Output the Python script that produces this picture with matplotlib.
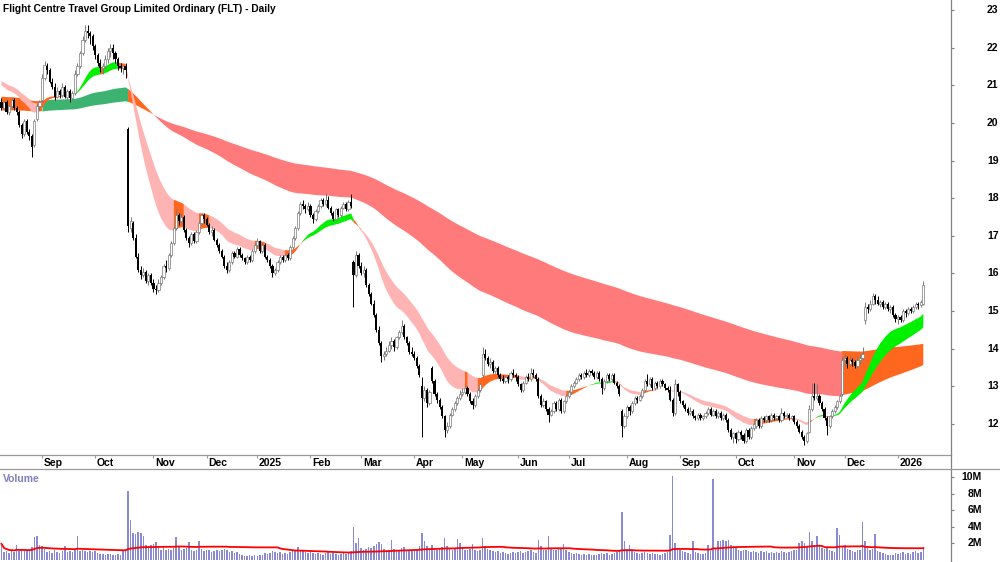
import numpy as np
import pandas as pd
import matplotlib
matplotlib.use('Agg')
import matplotlib.pyplot as plt
from matplotlib.lines import Line2D
from matplotlib.transforms import blended_transform_factory

plt.rcParams['font.family'] = ['Liberation Sans', 'DejaVu Sans']

# daily bars, one list per month: open, high, low, close, volume (millions)
aug24 = [(20.55, 20.65, 20.35, 20.4, 1.9), (20.4, 20.6, 20.35, 20.55, 0.9), (20.55, 20.6, 20.25, 20.3, 1.0), (20.3, 20.5, 20.2, 20.45, 0.8),
         (20.45, 20.7, 20.4, 20.6, 1.1), (20.6, 20.65, 20.35, 20.4, 0.9), (20.4, 20.45, 20.2, 20.3, 1.7), (20.3, 20.35, 19.9, 19.95, 1.0),
         (19.95, 20.0, 19.6, 19.7, 1.2), (19.7, 20.1, 19.65, 20.05, 1.0), (20.05, 20.1, 19.7, 19.75, 1.1), (19.75, 19.85, 19.55, 19.65, 1.1),
         (19.65, 19.7, 19.1, 19.35, 1.5), (19.4, 20.1, 19.35, 20.05, 2.7), (20.1, 20.5, 20.05, 20.45, 2.9), (20.45, 20.6, 20.35, 20.55, 1.8)]
sep24 = [(20.6, 21.3, 20.55, 21.2, 1.6), (21.2, 21.65, 21.15, 21.55, 1.3), (21.5, 21.6, 21.3, 21.4, 0.9), (21.4, 21.45, 21.05, 21.1, 1.0),
         (21.1, 21.2, 20.9, 20.95, 0.8), (20.95, 21.05, 20.6, 20.7, 1.2), (20.7, 20.95, 20.65, 20.85, 0.9), (20.85, 20.9, 20.65, 20.75, 0.8),
         (20.75, 21.05, 20.7, 20.95, 1.0), (20.95, 21.0, 20.65, 20.7, 1.6), (20.7, 20.9, 20.6, 20.85, 0.9), (20.85, 20.9, 20.55, 20.65, 1.0),
         (20.65, 20.85, 20.6, 20.8, 0.9), (20.8, 21.4, 20.75, 21.3, 1.1), (21.3, 21.6, 21.25, 21.5, 2.9), (21.5, 21.9, 21.45, 21.85, 1.0),
         (21.85, 22.3, 21.8, 22.2, 1.1), (22.2, 22.6, 22.15, 22.45, 1.0), (22.45, 22.6, 22.25, 22.4, 0.9), (22.4, 22.45, 22.1, 22.3, 1.0),
         (22.3, 22.35, 21.95, 22.05, 0.9)]
oct24 = [(22.05, 22.1, 21.7, 21.8, 1.0), (21.8, 21.85, 21.5, 21.6, 0.8), (21.6, 21.7, 21.35, 21.45, 0.7), (21.45, 21.6, 21.3, 21.5, 0.7),
         (21.5, 21.8, 21.45, 21.7, 0.6), (21.7, 22.0, 21.6, 21.9, 0.7), (21.9, 22.1, 21.75, 22.0, 0.7), (22.0, 22.1, 21.7, 21.85, 0.6),
         (21.85, 21.9, 21.6, 21.7, 0.6), (21.7, 21.75, 21.4, 21.5, 0.7), (21.5, 21.6, 21.35, 21.45, 0.6), (21.45, 21.55, 21.3, 21.5, 1.0),
         (21.5, 21.6, 21.2, 21.4, 1.2), (19.85, 19.9, 17.1, 17.25, 8.3), (17.2, 17.5, 17.1, 17.4, 4.8), (17.35, 17.4, 16.9, 16.95, 3.2),
         (16.95, 17.05, 16.4, 16.45, 3.1), (16.45, 16.55, 16.05, 16.1, 3.3), (16.1, 16.2, 15.85, 15.95, 3.2), (15.95, 16.15, 15.9, 16.05, 2.9),
         (16.05, 16.1, 15.75, 15.8, 1.7), (15.8, 16.0, 15.7, 15.95, 1.6), (15.95, 16.0, 15.7, 15.75, 1.7)]
nov24 = [(15.75, 15.85, 15.5, 15.6, 1.9), (15.6, 15.7, 15.45, 15.55, 2.1), (15.55, 15.85, 15.5, 15.75, 1.4), (15.75, 15.95, 15.7, 15.9, 1.2),
         (15.9, 16.25, 15.85, 16.2, 1.5), (16.2, 16.35, 16.05, 16.15, 1.1), (16.15, 16.55, 16.1, 16.5, 1.3), (16.5, 16.85, 16.45, 16.8, 1.2),
         (16.8, 17.25, 16.75, 17.2, 1.4), (17.2, 17.7, 17.15, 17.55, 2.7), (17.55, 17.6, 17.3, 17.4, 1.5), (17.4, 17.6, 17.35, 17.5, 1.2),
         (17.5, 17.55, 17.1, 17.15, 1.3), (17.15, 17.2, 16.9, 16.95, 1.4), (16.95, 17.0, 16.7, 16.8, 2.1), (16.8, 17.1, 16.75, 17.05, 1.1),
         (17.05, 17.1, 16.8, 16.85, 1.0), (16.85, 17.15, 16.8, 17.1, 1.2), (17.1, 17.4, 17.05, 17.35, 2.2), (17.35, 17.6, 17.3, 17.55, 1.3),
         (17.55, 17.6, 17.35, 17.45, 1.0)]
dec24 = [(17.45, 17.5, 17.25, 17.3, 1.2), (17.3, 17.35, 17.05, 17.1, 1.1), (17.1, 17.25, 17.0, 17.15, 0.9), (17.15, 17.2, 16.85, 16.9, 1.0),
         (16.9, 16.95, 16.7, 16.75, 1.1), (16.75, 16.8, 16.55, 16.6, 1.0), (16.6, 16.65, 16.4, 16.45, 1.2), (16.45, 16.5, 16.15, 16.2, 1.3),
         (16.2, 16.3, 16.0, 16.1, 1.1), (16.1, 16.35, 16.05, 16.3, 0.9), (16.3, 16.6, 16.25, 16.55, 1.0), (16.55, 16.6, 16.4, 16.45, 0.8),
         (16.45, 16.7, 16.4, 16.65, 0.9), (16.65, 16.7, 16.45, 16.5, 0.7), (16.5, 16.55, 16.35, 16.4, 0.5), (16.4, 16.45, 16.25, 16.3, 0.4),
         (16.3, 16.5, 16.25, 16.45, 0.4), (16.45, 16.5, 16.3, 16.35, 0.5), (16.35, 16.65, 16.3, 16.6, 0.4), (16.6, 16.8, 16.55, 16.75, 0.5)]
jan25 = [(16.75, 16.95, 16.7, 16.85, 0.4), (16.85, 16.9, 16.55, 16.6, 0.5), (16.6, 16.8, 16.55, 16.75, 0.6), (16.75, 16.8, 16.4, 16.45, 0.8),
         (16.45, 16.5, 16.3, 16.35, 0.7), (16.35, 16.4, 16.15, 16.2, 0.8), (16.2, 16.25, 15.9, 16.0, 1.0), (16.0, 16.15, 15.95, 16.1, 0.9),
         (16.1, 16.35, 16.05, 16.3, 0.8), (16.3, 16.5, 16.25, 16.45, 0.9), (16.45, 16.5, 16.3, 16.35, 0.7), (16.35, 16.55, 16.3, 16.5, 0.8),
         (16.5, 16.55, 16.35, 16.4, 0.7), (16.4, 16.75, 16.35, 16.7, 0.9), (16.7, 17.0, 16.65, 16.95, 1.0), (16.95, 17.25, 16.9, 17.2, 1.1),
         (17.2, 17.65, 17.15, 17.6, 1.5), (17.6, 17.9, 17.55, 17.85, 1.2), (17.85, 17.95, 17.7, 17.8, 1.0), (17.8, 17.85, 17.6, 17.7, 0.9),
         (17.7, 17.9, 17.65, 17.8, 0.8)]
feb25 = [(17.8, 17.85, 17.5, 17.55, 0.9), (17.55, 17.6, 17.35, 17.45, 0.8), (17.45, 17.7, 17.4, 17.65, 0.7), (17.65, 17.85, 17.6, 17.8, 0.8),
         (17.8, 18.0, 17.75, 17.95, 0.7), (17.95, 18.0, 17.8, 17.85, 0.6), (17.85, 18.15, 17.8, 17.95, 0.8), (17.95, 18.05, 17.7, 17.75, 0.9),
         (17.75, 17.8, 17.55, 17.6, 0.7), (17.6, 17.65, 17.4, 17.45, 0.8), (17.45, 17.75, 17.4, 17.7, 0.7), (17.7, 17.75, 17.5, 17.55, 0.6),
         (17.55, 17.8, 17.5, 17.75, 0.7), (17.75, 17.9, 17.7, 17.85, 0.8), (17.85, 17.9, 17.65, 17.7, 0.7), (17.7, 17.95, 17.65, 17.9, 0.8),
         (17.9, 18.1, 17.75, 17.8, 1.0), (16.3, 16.35, 15.1, 15.95, 4.0), (15.95, 16.6, 15.9, 16.5, 2.0), (16.5, 16.55, 16.15, 16.2, 2.6)]
mar25 = [(16.2, 16.3, 15.95, 16.0, 1.4), (16.0, 16.2, 15.9, 16.1, 1.2), (16.1, 16.15, 15.65, 15.7, 1.3), (15.7, 15.75, 15.4, 15.45, 1.5),
         (15.45, 15.5, 15.15, 15.2, 1.4), (15.2, 15.3, 14.85, 14.9, 1.6), (14.9, 14.95, 14.45, 14.5, 1.9), (14.5, 14.6, 14.1, 14.15, 2.1),
         (14.15, 14.2, 13.65, 13.8, 1.9), (13.8, 13.95, 13.7, 13.85, 1.3), (13.85, 14.05, 13.8, 13.95, 1.1), (13.95, 14.2, 13.9, 14.1, 1.2),
         (14.1, 14.3, 14.0, 14.2, 2.4), (14.2, 14.25, 13.95, 14.05, 1.3), (14.05, 14.35, 14.0, 14.3, 1.1), (14.3, 14.5, 14.25, 14.45, 1.2),
         (14.45, 14.75, 14.4, 14.6, 1.4), (14.6, 14.65, 14.25, 14.3, 1.5), (14.3, 14.35, 14.1, 14.15, 1.2), (14.15, 14.2, 13.85, 13.9, 1.1),
         (13.9, 14.05, 13.8, 13.85, 1.0)]
apr25 = [(13.85, 13.95, 13.7, 13.75, 1.1), (13.75, 13.8, 13.5, 13.55, 1.3), (13.55, 13.6, 13.25, 13.3, 1.6), (13.0, 13.25, 11.65, 12.7, 3.2),
         (12.7, 13.0, 12.6, 12.9, 2.2), (12.9, 12.95, 12.45, 12.55, 1.6), (12.55, 12.9, 12.5, 12.85, 1.4), (13.5, 13.55, 13.1, 13.15, 1.8),
         (13.15, 13.2, 12.75, 12.8, 1.3), (12.8, 12.85, 12.55, 12.65, 1.2), (12.65, 12.7, 12.4, 12.45, 1.3), (12.45, 12.5, 12.15, 12.2, 1.5),
         (12.2, 12.25, 11.65, 11.85, 2.6), (11.85, 12.05, 11.75, 11.95, 1.6), (11.95, 12.3, 11.9, 12.25, 1.4), (12.25, 12.45, 12.2, 12.4, 1.2),
         (12.4, 12.6, 12.35, 12.55, 1.3), (12.55, 12.75, 12.5, 12.7, 2.5), (12.7, 12.9, 12.65, 12.8, 2.0)]
may25 = [(12.8, 12.95, 12.75, 12.85, 1.4), (12.85, 13.0, 12.8, 12.95, 1.2), (12.95, 13.0, 12.75, 12.8, 1.1), (12.8, 12.85, 12.55, 12.6, 1.3),
         (12.6, 12.7, 12.4, 12.5, 1.9), (12.5, 12.8, 12.45, 12.75, 1.2), (12.75, 12.95, 12.7, 12.9, 1.0), (12.9, 13.1, 12.85, 13.05, 1.1),
         (13.3, 14.05, 13.25, 13.85, 2.6), (13.85, 14.0, 13.7, 13.75, 1.6), (13.75, 13.8, 13.55, 13.6, 1.3), (13.6, 13.75, 13.5, 13.65, 1.1),
         (13.65, 13.7, 13.35, 13.4, 1.0), (13.4, 13.55, 13.35, 13.5, 0.9), (13.5, 13.55, 13.25, 13.3, 1.0), (13.3, 13.35, 13.15, 13.2, 0.8),
         (13.2, 13.3, 13.1, 13.15, 0.9), (13.15, 13.3, 13.1, 13.25, 0.8), (13.25, 13.3, 13.1, 13.2, 0.7), (13.2, 13.4, 13.15, 13.35, 0.8),
         (13.35, 13.45, 13.25, 13.3, 0.9), (13.3, 13.35, 13.15, 13.25, 0.8)]
jun25 = [(13.25, 13.3, 13.0, 13.05, 0.9), (13.05, 13.1, 12.85, 12.9, 1.0), (12.9, 13.15, 12.85, 13.1, 0.8), (13.1, 13.3, 13.05, 13.25, 0.9),
         (13.25, 13.35, 13.15, 13.2, 1.0), (13.2, 13.5, 13.15, 13.35, 1.1), (13.35, 13.45, 13.25, 13.3, 0.9), (13.3, 13.35, 13.15, 13.2, 0.8),
         (13.2, 13.25, 12.7, 12.75, 2.4), (12.75, 12.8, 12.45, 12.5, 1.6), (12.5, 12.7, 12.45, 12.6, 1.2), (12.6, 12.65, 12.35, 12.4, 1.1),
         (12.4, 12.45, 12.05, 12.25, 2.9), (12.25, 12.4, 12.2, 12.35, 1.3), (12.35, 12.6, 12.3, 12.55, 1.2), (12.55, 12.6, 12.35, 12.4, 1.1),
         (12.4, 12.7, 12.35, 12.65, 1.4), (12.65, 12.7, 12.3, 12.35, 1.3), (12.35, 12.65, 12.3, 12.6, 1.9), (12.6, 12.8, 12.55, 12.75, 1.2)]
jul25 = [(12.75, 12.9, 12.7, 12.85, 0.9), (12.85, 13.05, 12.8, 13.0, 0.8), (13.0, 13.15, 12.95, 13.1, 0.7), (13.1, 13.25, 13.05, 13.2, 0.8),
         (13.2, 13.35, 13.15, 13.3, 0.7), (13.3, 13.35, 13.2, 13.25, 0.6), (13.25, 13.4, 13.2, 13.35, 0.7), (13.35, 13.45, 13.25, 13.3, 0.6),
         (13.3, 13.45, 13.25, 13.4, 0.7), (13.4, 13.45, 13.3, 13.35, 0.6), (13.35, 13.4, 13.2, 13.25, 0.5), (13.25, 13.4, 13.2, 13.35, 0.6),
         (13.35, 13.4, 13.15, 13.2, 0.7), (13.2, 13.25, 12.8, 12.95, 0.8), (12.95, 13.2, 12.9, 13.15, 0.7), (13.15, 13.35, 13.1, 13.3, 0.8),
         (13.3, 13.35, 13.15, 13.2, 0.6), (13.2, 13.35, 13.15, 13.3, 0.7), (13.3, 13.35, 13.05, 13.1, 0.8), (13.1, 13.15, 12.95, 13.0, 0.9),
         (13.0, 13.05, 12.75, 12.8, 1.1), (12.35, 12.4, 11.65, 11.95, 5.7), (11.95, 12.3, 11.9, 12.2, 2.2)]
aug25 = [(12.2, 12.5, 12.15, 12.45, 1.3), (12.45, 12.5, 12.25, 12.35, 1.8), (12.35, 12.6, 12.3, 12.55, 1.0), (12.55, 12.75, 12.5, 12.7, 0.9),
         (12.7, 12.75, 12.55, 12.65, 0.8), (12.65, 12.8, 12.6, 12.75, 0.7), (12.75, 12.95, 12.7, 12.9, 0.8), (12.9, 13.2, 12.85, 13.15, 0.9),
         (13.15, 13.33, 13.0, 13.05, 0.8), (13.05, 13.25, 13.0, 13.2, 0.7), (13.2, 13.25, 12.9, 12.95, 0.8), (12.95, 13.15, 12.9, 13.1, 0.7),
         (13.1, 13.15, 12.95, 13.0, 0.7), (13.0, 13.2, 12.95, 13.15, 0.6), (13.15, 13.2, 13.0, 13.05, 0.7), (13.05, 13.1, 12.9, 12.95, 0.8),
         (12.95, 13.0, 12.85, 12.9, 0.9), (12.9, 13.0, 12.6, 12.65, 3.0), (12.65, 12.7, 12.2, 12.3, 10.1), (12.3, 13.2, 12.25, 13.05, 2.0),
         (13.05, 13.1, 12.75, 12.85, 1.4)]
sep25 = [(12.85, 12.9, 12.55, 12.6, 1.2), (12.6, 12.65, 12.45, 12.5, 1.0), (12.5, 12.55, 12.35, 12.4, 0.9), (12.4, 12.45, 12.25, 12.3, 0.8),
         (12.3, 12.45, 12.25, 12.35, 0.7), (12.35, 12.4, 12.15, 12.2, 2.2), (12.2, 12.25, 12.1, 12.15, 0.9), (12.15, 12.3, 12.1, 12.25, 0.8),
         (12.25, 12.3, 12.1, 12.15, 0.7), (12.15, 12.25, 12.1, 12.2, 0.7), (12.2, 12.35, 12.15, 12.3, 0.8), (12.3, 12.45, 12.25, 12.4, 1.8),
         (12.4, 12.45, 12.2, 12.25, 1.0), (12.25, 12.4, 12.2, 12.35, 9.75), (12.35, 12.4, 12.15, 12.2, 1.4), (12.2, 12.35, 12.15, 12.3, 2.2),
         (12.3, 12.35, 12.1, 12.15, 2.3), (12.15, 12.3, 12.1, 12.25, 2.4), (12.25, 12.3, 12.05, 12.1, 2.3), (12.1, 12.15, 11.8, 11.85, 2.4),
         (11.85, 11.9, 11.6, 11.65, 1.8), (11.65, 11.8, 11.5, 11.75, 1.6)]
oct25 = [(11.75, 11.8, 11.5, 11.6, 1.5), (11.6, 11.85, 11.55, 11.8, 1.2), (11.8, 11.85, 11.6, 11.7, 1.0), (11.7, 11.75, 11.5, 11.55, 1.2),
         (11.55, 11.9, 11.5, 11.85, 1.1), (11.85, 11.9, 11.6, 11.65, 1.0), (11.65, 11.95, 11.6, 11.9, 0.9), (11.9, 12.05, 11.85, 12.0, 1.0),
         (11.95, 12.15, 11.9, 12.1, 0.9), (12.1, 12.15, 11.9, 11.95, 0.8), (11.95, 12.2, 11.9, 12.15, 1.0), (12.15, 12.2, 12.05, 12.1, 0.9),
         (12.1, 12.25, 12.05, 12.2, 1.0), (12.2, 12.25, 12.05, 12.1, 0.8), (12.1, 12.3, 12.05, 12.25, 0.9), (12.25, 12.3, 12.1, 12.15, 0.8),
         (12.15, 12.25, 12.1, 12.2, 0.9), (12.2, 12.25, 12.05, 12.1, 0.8), (12.1, 12.42, 12.05, 12.3, 1.0), (12.3, 12.35, 12.15, 12.2, 0.9),
         (12.2, 12.3, 12.15, 12.25, 0.8), (12.25, 12.3, 12.1, 12.15, 0.9), (12.15, 12.25, 12.1, 12.2, 1.0)]
nov25 = [(12.2, 12.25, 12.0, 12.05, 1.1), (12.05, 12.1, 11.9, 11.95, 1.2), (11.95, 12.0, 11.75, 11.8, 2.0), (11.8, 11.85, 11.6, 11.65, 2.2),
         (11.65, 11.7, 11.45, 11.55, 2.0), (11.55, 11.8, 11.5, 11.75, 1.6), (11.8, 12.5, 11.75, 12.4, 3.3), (12.4, 13.1, 12.35, 12.75, 2.2),
         (12.75, 13.1, 12.65, 12.7, 1.6), (12.7, 13.05, 12.65, 12.75, 2.8), (12.75, 12.8, 12.5, 12.55, 1.8), (12.55, 12.6, 12.35, 12.4, 1.4),
         (12.4, 12.45, 12.1, 12.15, 1.3), (12.15, 12.2, 11.7, 11.95, 1.5), (11.95, 12.25, 11.9, 12.2, 1.2), (12.2, 12.4, 12.15, 12.35, 1.0),
         (12.35, 12.5, 12.3, 12.45, 0.9), (12.45, 12.65, 12.4, 12.6, 3.8), (12.6, 12.8, 12.55, 12.75, 3.0), (12.8, 13.8, 12.75, 13.7, 1.6)]
dec25 = [(13.7, 13.85, 13.55, 13.75, 1.8), (13.75, 13.8, 13.5, 13.6, 1.3), (13.6, 13.8, 13.55, 13.7, 1.1), (13.7, 13.75, 13.55, 13.65, 1.0),
         (13.65, 13.7, 13.5, 13.55, 0.9), (13.55, 13.8, 13.5, 13.7, 1.1), (13.7, 13.85, 13.6, 13.75, 1.2), (13.75, 14.05, 13.7, 13.85, 4.5),
         (14.75, 15.25, 14.65, 15.1, 2.3), (15.1, 15.2, 14.95, 15.05, 1.5), (15.05, 15.3, 15.0, 15.2, 1.2), (15.2, 15.47, 15.15, 15.4, 1.3),
         (15.4, 15.45, 15.2, 15.3, 3.1), (15.3, 15.4, 15.15, 15.2, 1.0), (15.2, 15.3, 15.1, 15.25, 0.9), (15.25, 15.3, 15.05, 15.1, 0.8),
         (15.1, 15.25, 15.05, 15.2, 0.7), (15.2, 15.25, 15.0, 15.05, 0.6), (15.05, 15.15, 14.95, 15.1, 0.5), (15.1, 15.15, 14.85, 14.9, 0.6),
         (14.9, 14.95, 14.7, 14.8, 0.8)]
jan26 = [(14.8, 14.9, 14.67, 14.85, 0.7), (14.85, 14.9, 14.7, 14.75, 0.8), (14.75, 15.05, 14.7, 15.0, 0.9), (15.0, 15.05, 14.85, 14.95, 0.7),
         (14.95, 15.1, 14.9, 15.05, 0.8), (15.05, 15.1, 14.95, 15.0, 0.7), (15.0, 15.15, 14.95, 15.1, 0.9), (15.1, 15.25, 15.05, 15.2, 1.0),
         (15.2, 15.25, 15.05, 15.15, 0.8), (15.15, 15.3, 15.1, 15.25, 0.9), (15.2, 15.8, 15.15, 15.7, 1.5)]

months = [aug24, sep24, oct24, nov24, dec24, jan25, feb25, mar25, apr25, may25,
          jun25, jul25, aug25, sep25, oct25, nov25, dec25, jan26]
month_labels = ['', 'Sep', 'Oct', 'Nov', 'Dec', '2025', 'Feb', 'Mar', 'Apr', 'May',
                'Jun', 'Jul', 'Aug', 'Sep', 'Oct', 'Nov', 'Dec', '2026']
price_ticks = list(range(12, 24))
vol_ticks = [2, 4, 6, 8, 10]

# ribbon values at the first bar (fast, slow) and EMA spans
short_start = [21.05, 21.15]
long_start = [20.70, 20.33]
short_spans = [21, 34]
long_spans = [130, 250]
vol_ma_len = 60


def ema(values, span, start):
    a = 2.0 / (span + 1)
    out = []
    e = start
    for val in values:
        e = e + a * (val - e)
        out.append(e)
    return np.array(out)


def band_state(fast, slow, start):
    rising = np.diff(fast, prepend=start) > 0
    state = np.full(len(fast), 'mixed', dtype=object)
    state[(fast > slow) & rising] = 'bull'
    state[(fast < slow) & ~rising] = 'bear'
    return state


def draw_band(ax, x, fast, slow, state, colors):
    lo = np.minimum(fast, slow)
    hi = np.maximum(fast, slow)
    for key, col in colors.items():
        m = state == key
        ext = m.copy()
        ext[1:] |= m[:-1]
        ax.fill_between(x, lo, hi, where=ext, color=col, linewidth=0, zorder=1)


rows = [r for m in months for r in m]
df = pd.DataFrame(rows, columns=['open', 'high', 'low', 'close', 'vol'])
x = np.arange(len(df))
o, h, l, c, v = (df[k].values for k in ['open', 'high', 'low', 'close', 'vol'])

month_start = np.cumsum([0] + [len(m) for m in months[:-1]])

fig = plt.figure(figsize=(10, 5.62), dpi=100)
ax = fig.add_axes([0, 1 - 455 / 562, 0.951, 455 / 562])
axv = fig.add_axes([0, 0, 0.951, (562 - 469) / 562])

# ribbons
sf = ema(c, short_spans[0], short_start[0])
ss = ema(c, short_spans[1], short_start[1])
lf = ema(c, long_spans[0], long_start[0])
ls = ema(c, long_spans[1], long_start[1])
draw_band(ax, x, lf, ls, band_state(lf, ls, long_start[0]),
          {'bull': '#3cb371', 'bear': '#ff7b7b', 'mixed': '#ff661e'})
draw_band(ax, x, sf, ss, band_state(sf, ss, short_start[0]),
          {'bull': '#00f000', 'bear': '#ffb4b4', 'mixed': '#ff661e'})

# candles
up = c >= o
body_lo = np.minimum(o, c)
body_h = np.maximum(np.abs(c - o), 0.02)
ax.vlines(x[up], l[up], h[up], color='#7a7a7a', lw=0.7, zorder=3)
ax.vlines(x[~up], l[~up], h[~up], color='black', lw=0.7, zorder=3)
ax.bar(x[up], body_h[up], bottom=body_lo[up], width=0.85, facecolor='white',
       edgecolor='#7a7a7a', linewidth=0.5, zorder=4)
ax.bar(x[~up], body_h[~up], bottom=body_lo[~up], width=0.85, color='black',
       linewidth=0, zorder=4)

xl = (-1.48 / 2.5325, (951 - 1.48) / 2.5325)
ax.set_xlim(*xl)
ax.set_ylim(11.176, 23.266)

for side in ['top', 'left', 'right']:
    ax.spines[side].set_visible(False)
ax.spines['bottom'].set_color('#9a9a9a')
ax.spines['bottom'].set_linewidth(0.9)

ax.yaxis.tick_right()
ax.set_yticks(price_ticks)
ax.tick_params(axis='y', direction='out', length=2.5, color='#808080', labelright=False)
ytrans = blended_transform_factory(ax.transAxes, ax.transData)
for t in price_ticks:
    ax.text(987 / 951, t, str(t), transform=ytrans, ha='left', va='center',
            fontsize=7.5, fontweight='bold', clip_on=False)

ax.set_xticks(month_start[1:])
ax.set_xticklabels([])
ax.tick_params(axis='x', direction='out', length=2.5, color='#9a9a9a')
trans = blended_transform_factory(ax.transData, ax.transAxes)
for i, lab in zip(month_start[1:], month_labels[1:]):
    ax.text(i + 0.7, -0.0065, lab, transform=trans, ha='left', va='top',
            fontsize=7.5, fontweight='bold', clip_on=False)

# volume pane
axv.bar(x, v, width=0.6, color='#8a8ad2', linewidth=0)
vma = pd.Series(v).rolling(vol_ma_len, min_periods=1).mean()
axv.plot(x, vma, color='#ff0000', lw=1.3)
axv.set_xlim(*xl)
axv.set_ylim(-0.3, 10.97)
for side in ['top', 'left', 'right', 'bottom']:
    axv.spines[side].set_visible(False)
axv.set_xticks([])
axv.yaxis.tick_right()
axv.set_yticks(vol_ticks)
axv.tick_params(axis='y', direction='out', length=2.5, color='#808080', labelright=False)
vtrans = blended_transform_factory(axv.transAxes, axv.transData)
for t in vol_ticks:
    axv.text(982 / 951, t, f'{t}M', transform=vtrans, ha='right', va='center',
             fontsize=7.5, fontweight='bold', clip_on=False)

# frame lines
fig.add_artist(Line2D([0.951, 0.951], [0, 1], transform=fig.transFigure, color='#808080', lw=0.9))
fig.add_artist(Line2D([0, 1], [1 - 469 / 562] * 2, transform=fig.transFigure, color='#9a9a9a', lw=0.9))

fig.text(0.003, 1 - 9 / 562, 'Flight Centre Travel Group Limited Ordinary (FLT) - Daily',
         ha='left', va='center', fontsize=7.3, fontweight='bold', zorder=10)
fig.text(0.003, 1 - 479 / 562, 'Volume', ha='left', va='center', fontsize=7.5,
         color='#7f7fc4', fontweight='bold')

fig.savefig('out.png', dpi=100)
